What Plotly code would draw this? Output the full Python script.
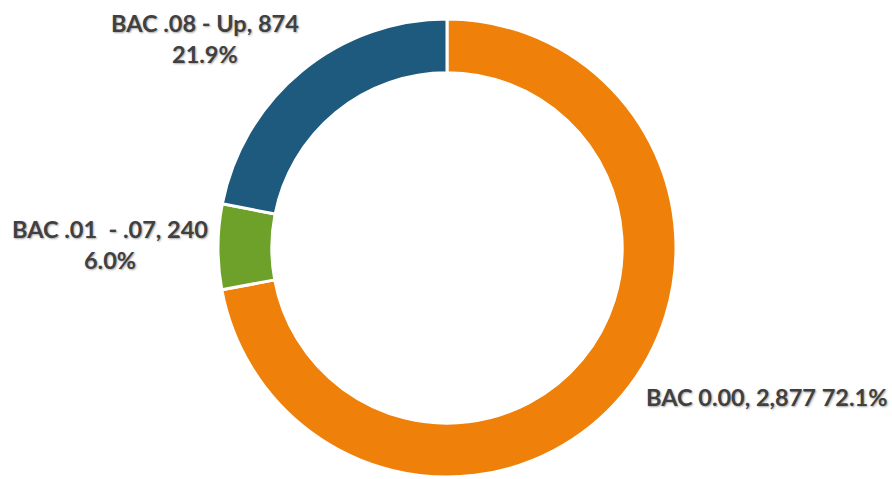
import plotly.graph_objects as go

categories = ["BAC 0.00", "BAC .01  - .07", "BAC .08 - Up"]
counts = [2877, 240, 874]
percent_labels = ["72.1%", "6.0%", "21.9%"]
colors = ["#EF800A", "#6EA129", "#1D5A7D"]

W, H = 892, 479

fig = go.Figure()
fig.add_trace(go.Pie(
    labels=categories,
    values=counts,
    sort=False,
    direction="clockwise",
    rotation=0,
    hole=0.765,
    marker=dict(colors=colors, line=dict(color="white", width=3)),
    textinfo="none",
    hoverinfo="label+value+percent",
    showlegend=False,
    domain=dict(x=[(447 - 229) / W, (447 + 229) / W], y=[1 - 478 / H, 1 - 18 / H]),
))

label_texts = [
    f"{categories[0]}, {counts[0]:,} {percent_labels[0]}",
    f"{categories[1]}, {counts[1]:,}<br>{percent_labels[1]}",
    f"{categories[2]}, {counts[2]:,}<br>{percent_labels[2]}",
]
label_pos = [(766, 397), (110, 244), (205, 38)]

for txt, (px, py) in zip(label_texts, label_pos):
    fig.add_annotation(
        x=px / W, y=1 - py / H, xref="paper", yref="paper",
        text=txt, showarrow=False, xanchor="center", yanchor="middle",
        align="center",
        font=dict(family="Lato", size=23.5, color="#404040", weight="bold",
                  shadow="1px 1px 2px rgba(0,0,0,0.35)"),
    )

fig.update_layout(
    width=W, height=H,
    margin=dict(l=0, r=0, t=0, b=0),
    paper_bgcolor="white",
    plot_bgcolor="white",
)

fig.write_html("out.html")
